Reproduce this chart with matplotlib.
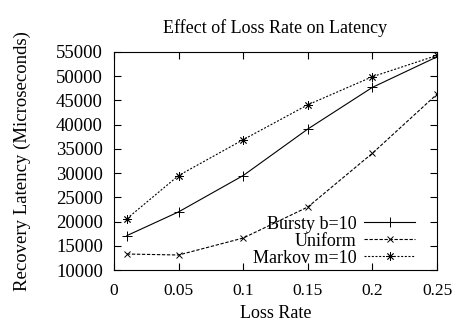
import matplotlib
matplotlib.use("Agg")
import matplotlib.pyplot as plt

# Data
loss_rate = [0.01, 0.05, 0.1, 0.15, 0.2, 0.25]
bursty = [17100, 22000, 29500, 39100, 47700, 54000]
uniform = [13300, 13100, 16600, 23000, 34100, 46300]
markov = [20600, 29500, 36900, 44100, 49900, 54300]

x_ticks = [0, 0.05, 0.1, 0.15, 0.2, 0.25]
x_tick_labels = ["0", "0.05", "0.1", "0.15", "0.2", "0.25"]
y_ticks = list(range(10000, 55001, 5000))

plt.rcParams['font.family'] = ['Liberation Serif', 'DejaVu Serif']
plt.rcParams['font.size'] = 13

fig = plt.figure(figsize=(4.66, 3.25), dpi=100)
ax = fig.add_axes([0.2446, 0.1692, 0.6932, 0.6708])

star = (8, 2, 0)
ax.plot(loss_rate, bursty, color='black', lw=0.8, marker='+', ms=7, mew=0.7,
        label='Bursty b=10')
ax.plot(loss_rate, uniform, color='black', lw=0.8, marker='x', ms=5, mew=0.7,
        dashes=(3, 1.5), label='Uniform')
ax.plot(loss_rate, markov, color='black', lw=0.8, marker=star, ms=6, mew=0.6,
        dashes=(1.8, 1.5), label='Markov m=10')

ax.set_xlim(0, 0.25)
ax.set_ylim(10000, 55000)
ax.set_xticks(x_ticks)
ax.set_xticklabels(x_tick_labels)
ax.set_yticks(y_ticks)
ax.tick_params(direction='in', top=True, right=True, length=5, width=0.8)
ax.tick_params(axis='y', labelsize=13.5, pad=8)
ax.tick_params(axis='x', labelsize=12.5, pad=9)
for s in ax.spines.values():
    s.set_linewidth(0.8)

ax.set_title('Effect of Loss Rate on Latency', fontsize=13, pad=14)
ax.set_xlabel('Loss Rate', fontsize=13, labelpad=5)
ax.set_ylabel('Recovery Latency (Microseconds)', fontsize=13.5, labelpad=18)

leg = ax.legend(loc='lower right', bbox_to_anchor=(0.932, 0.015), frameon=False,
                markerfirst=False, handlelength=2.8, handletextpad=0.45,
                labelspacing=0.0, borderaxespad=0.0, borderpad=0.0, fontsize=13)
for t in leg.get_texts():
    t.set_ha('right')

fig.savefig('out.png', dpi=100)
